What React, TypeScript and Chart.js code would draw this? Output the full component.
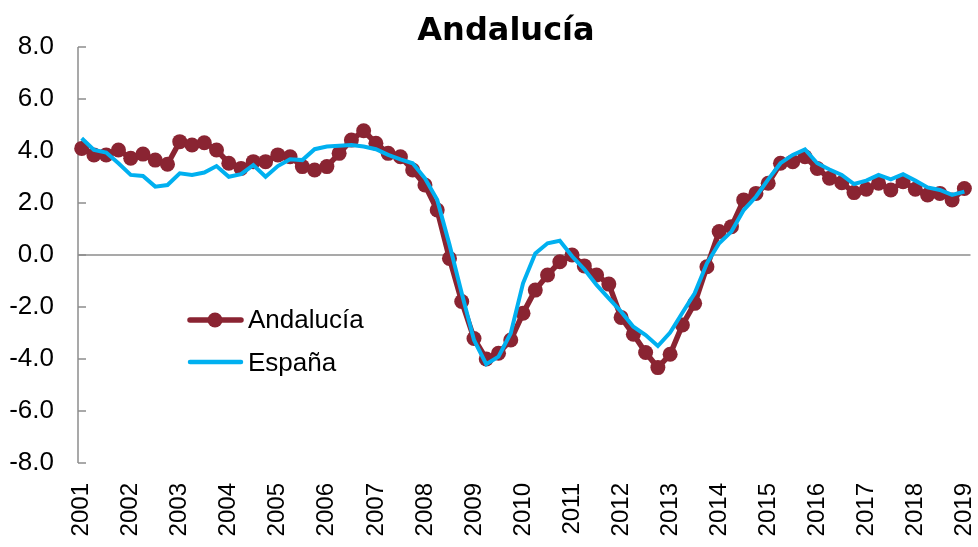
import React, { useEffect, useRef } from "react";
import { Chart, registerables } from "chart.js";

Chart.register(...registerables);

const TITLE = "Andalucía";
const YEARS = ["2001","2002","2003","2004","2005","2006","2007","2008","2009","2010","2011","2012","2013","2014","2015","2016","2017","2018","2019"];
const Y_TICKS = [-8, -6, -4, -2, 0, 2, 4, 6, 8];

// Quarterly values, 2001 Q1 .. 2019 Q1
const ANDALUCIA = [
  4.10, 3.85, 3.85, 4.04, 3.72, 3.88, 3.65, 3.49,
  4.36, 4.23, 4.32, 4.04, 3.53, 3.33, 3.59, 3.59,
  3.85, 3.78, 3.40, 3.27, 3.40, 3.91, 4.42, 4.78,
  4.30, 3.91, 3.78, 3.27, 2.69, 1.73, -0.13, -1.79,
  -3.21, -4.00, -3.78, -3.27, -2.24, -1.35, -0.77, -0.26,
  0.00, -0.42, -0.77, -1.12, -2.40, -3.05, -3.75, -4.33,
  -3.82, -2.69, -1.86, -0.45, 0.90, 1.09, 2.12, 2.37,
  2.76, 3.53, 3.59, 3.78, 3.33, 2.95, 2.78, 2.40,
  2.53, 2.76, 2.50, 2.82, 2.53, 2.31, 2.37, 2.12,
  2.56,
];
const ESPANA = [
  4.49, 4.04, 3.94, 3.53, 3.08, 3.04, 2.63, 2.69,
  3.14, 3.08, 3.17, 3.42, 3.01, 3.11, 3.46, 3.01,
  3.42, 3.68, 3.65, 4.07, 4.17, 4.20, 4.23, 4.17,
  4.07, 3.85, 3.68, 3.53, 2.95, 2.12, 0.40, -1.47,
  -3.27, -4.20, -3.91, -3.01, -1.09, 0.06, 0.45, 0.55,
  -0.05, -0.55, -1.15, -1.67, -2.18, -2.76, -3.08, -3.50,
  -2.98, -2.22, -1.47, -0.32, 0.45, 0.90, 1.73, 2.24,
  2.91, 3.53, 3.85, 4.06, 3.53, 3.29, 3.08, 2.73,
  2.86, 3.08, 2.91, 3.11, 2.86, 2.60, 2.50, 2.31,
  2.44,
];

const RED = "#8A2432";
const BLUE = "#00B0F0";
const AXIS_GREY = "#8C8C8C";
const FONT = '"Liberation Sans", Arial, sans-serif';

const decorPlugin = {
  id: "decor",
  beforeDatasetsDraw(chart: any) {
    const { ctx, chartArea, scales } = chart;
    const y = scales.y;
    ctx.save();
    ctx.strokeStyle = AXIS_GREY;
    ctx.lineWidth = 1.5;
    const y0 = y.getPixelForValue(0);
    ctx.beginPath();
    ctx.moveTo(chartArea.left, y0);
    ctx.lineTo(chartArea.right, y0);
    ctx.stroke();
    ctx.beginPath();
    ctx.moveTo(chartArea.left, chartArea.top);
    ctx.lineTo(chartArea.left, chartArea.bottom);
    ctx.stroke();
    Y_TICKS.forEach((v) => {
      const py = y.getPixelForValue(v);
      ctx.beginPath();
      ctx.moveTo(chartArea.left, py);
      ctx.lineTo(chartArea.left + 8, py);
      ctx.stroke();
    });
    ctx.restore();
  },
  afterDraw(chart: any) {
    const { ctx } = chart;
    ctx.save();
    ctx.fillStyle = "#000";
    ctx.font = 'bold 32px "DejaVu Sans", Verdana, sans-serif';
    ctx.textAlign = "center";
    ctx.textBaseline = "alphabetic";
    ctx.fillText(TITLE, 506, 40);
    const items = [
      { label: "Andalucía", color: RED, width: 5.5, marker: true, y: 320, base: 328 },
      { label: "España", color: BLUE, width: 4.5, marker: false, y: 362, base: 371 },
    ];
    items.forEach((it) => {
      ctx.strokeStyle = it.color;
      ctx.lineWidth = it.width;
      ctx.lineCap = "round";
      ctx.beginPath();
      ctx.moveTo(190, it.y);
      ctx.lineTo(241, it.y);
      ctx.stroke();
      if (it.marker) {
        ctx.fillStyle = it.color;
        ctx.beginPath();
        ctx.arc(215, it.y, 7.5, 0, Math.PI * 2);
        ctx.fill();
      }
      ctx.fillStyle = "#000";
      ctx.font = `26px ${FONT}`;
      ctx.textAlign = "left";
      ctx.textBaseline = "alphabetic";
      ctx.fillText(it.label, 248, it.base);
    });
    ctx.restore();
  },
};

export default function App() {
  const ref = useRef<HTMLCanvasElement>(null);
  useEffect(() => {
    if (!ref.current) return;
    const idx = ANDALUCIA.map((_, i) => i);
    const chart = new Chart(ref.current, {
      type: "line",
      data: {
        datasets: [
          {
            label: "Andalucía",
            data: idx.map((i) => ({ x: i, y: ANDALUCIA[i] })),
            borderColor: RED,
            backgroundColor: RED,
            borderWidth: 5.5,
            pointRadius: 7.5,
            pointBorderWidth: 0,
            pointBackgroundColor: RED,
            tension: 0,
            clip: false,
            order: 2,
          },
          {
            label: "España",
            data: idx.map((i) => ({ x: i, y: ESPANA[i] })),
            borderColor: BLUE,
            backgroundColor: BLUE,
            borderWidth: 4,
            pointRadius: 0,
            tension: 0,
            clip: false,
            order: 1,
          },
        ],
      },
      options: {
        animation: false,
        responsive: false,
        maintainAspectRatio: false,
        layout: { padding: { top: 47, right: 7, left: 0, bottom: 0 } },
        plugins: {
          legend: { display: false },
          title: { display: false },
          tooltip: { enabled: false },
        },
        scales: {
          x: {
            type: "linear",
            min: -0.3,
            max: 72.5,
            grid: { display: false, drawTicks: false },
            border: { display: false },
            afterBuildTicks: (s: any) => {
              s.ticks = YEARS.map((_, i) => ({ value: i * 4 }));
            },
            afterFit: (s: any) => {
              s.height = 84;
              s.paddingLeft = 0;
              s.paddingRight = 0;
            },
            ticks: {
              autoSkip: false,
              minRotation: 90,
              maxRotation: 90,
              padding: 20,
              color: "#000",
              font: { family: FONT, size: 24 },
              callback: (v: any) => YEARS[Math.round(Number(v) / 4)] ?? "",
            },
          },
          y: {
            min: -8,
            max: 8,
            grid: { display: false, drawTicks: false },
            border: { display: false },
            afterBuildTicks: (s: any) => {
              s.ticks = Y_TICKS.map((v) => ({ value: v }));
            },
            afterFit: (s: any) => {
              s.width = 78;
              s.paddingTop = 0;
              s.paddingBottom = 0;
            },
            ticks: {
              padding: 24,
              color: "#000",
              font: { family: FONT, size: 26 },
              callback: (v: any) => Number(v).toFixed(1),
            },
          },
        },
      },
      plugins: [decorPlugin],
    });
    return () => chart.destroy();
  }, []);
  return (
    <div style={{ position: "fixed", left: 0, top: 0, width: 978, height: 547, background: "#fff" }}>
      <canvas ref={ref} width={978} height={547} style={{ display: "block" }} />
    </div>
  );
}
